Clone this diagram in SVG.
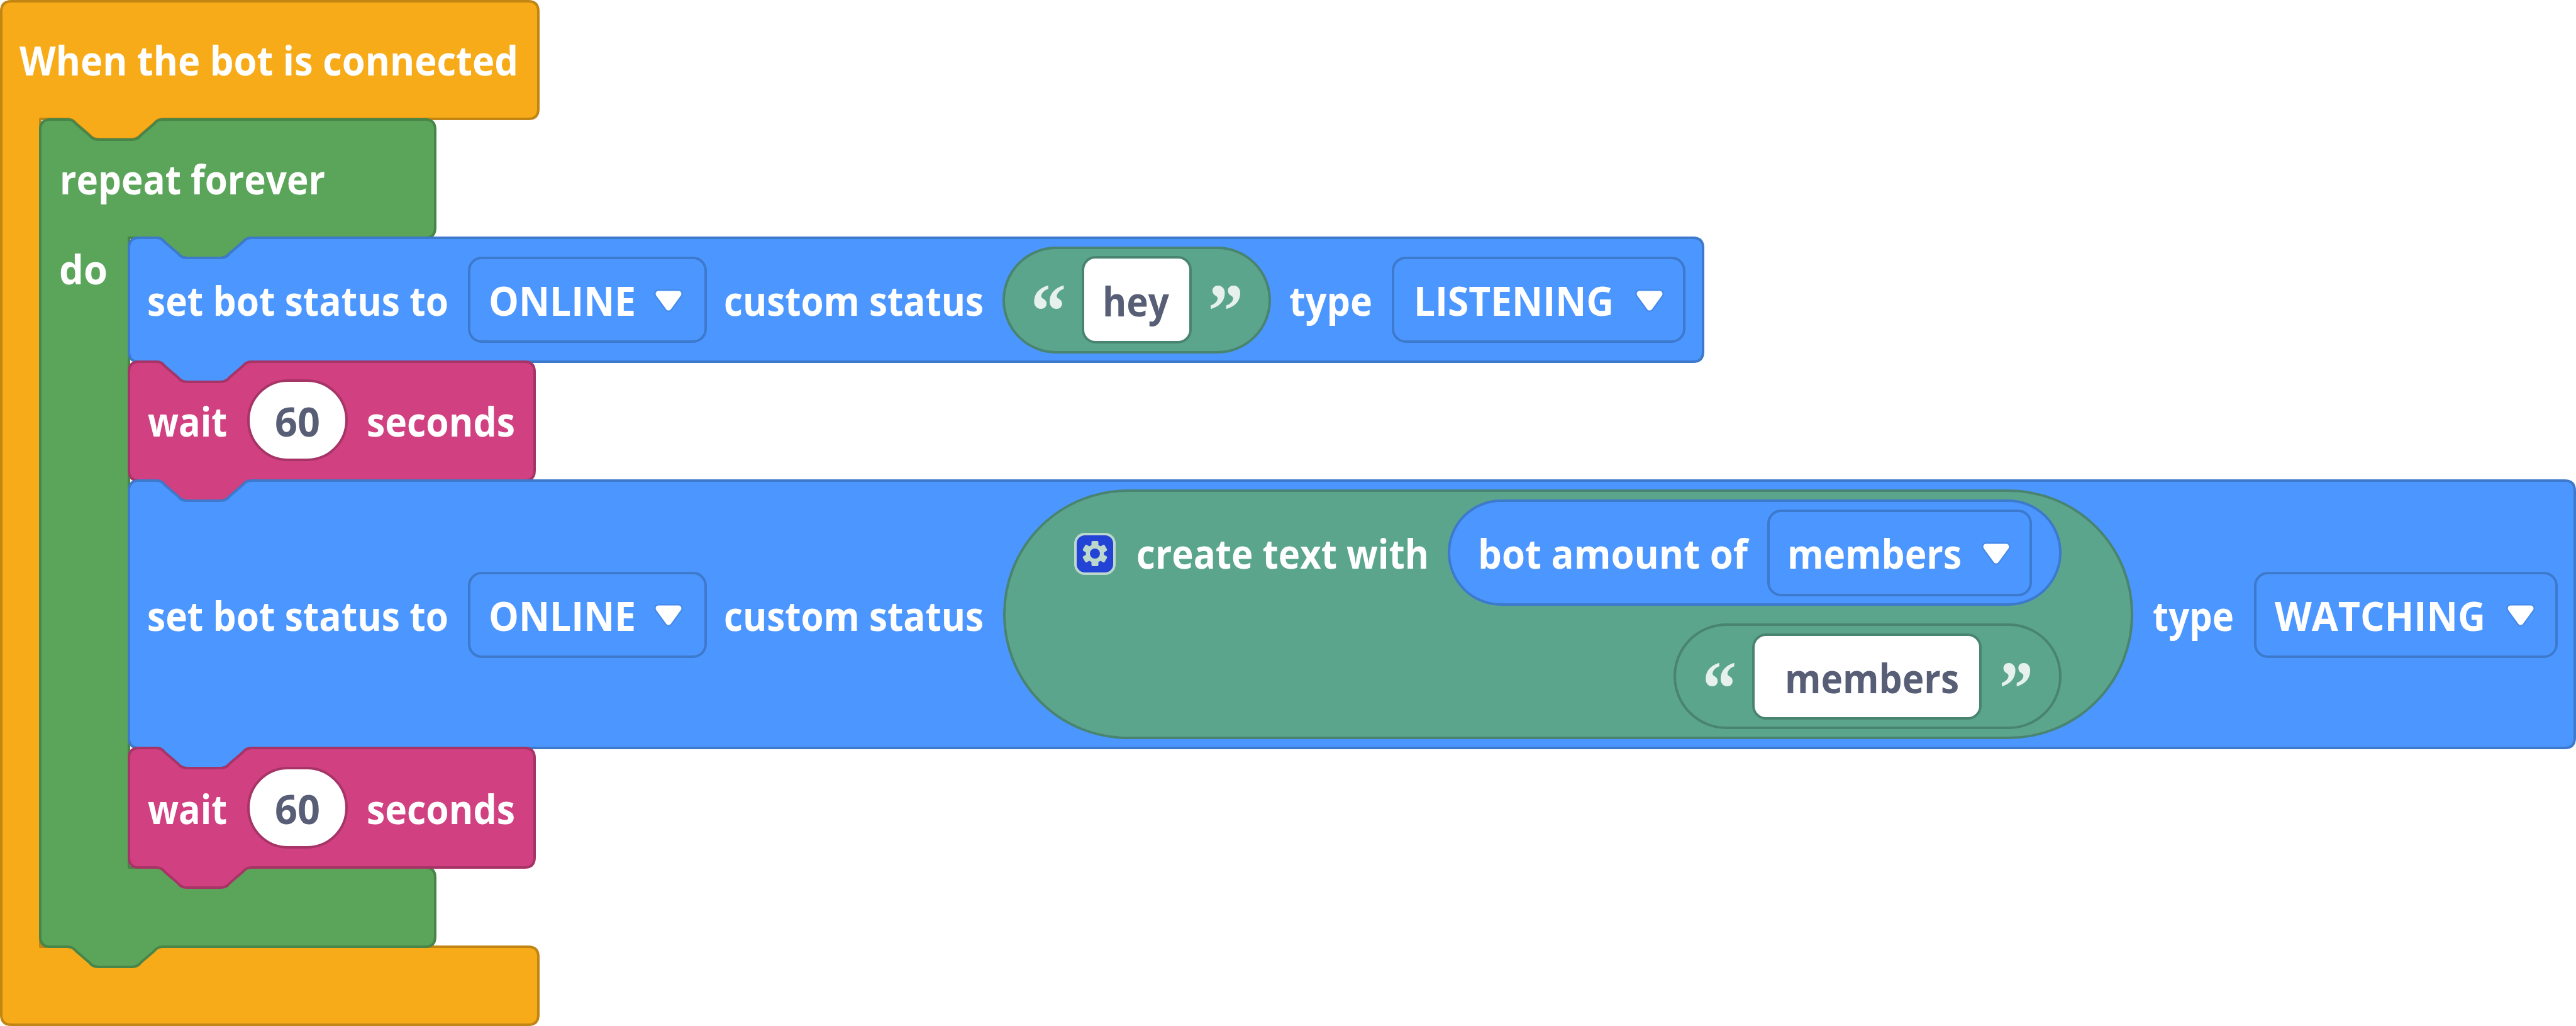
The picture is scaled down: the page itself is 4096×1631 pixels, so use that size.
<svg xmlns="http://www.w3.org/2000/svg" xmlns:xlink="http://www.w3.org/1999/xlink" width="4096" height="1631" viewBox="0 0 4096 1631">
<style>
.b{stroke-width:4;stroke-linejoin:round}
.orange{fill:#f8ab19;stroke:#c18514}
.green{fill:#5ba55b;stroke:#498449}
.blue{fill:#4c97ff;stroke:#3d79cc}
.pink{fill:#d14081;stroke:#a73467}
.str{fill:#5ba58c;stroke:#498470}
.dd{fill:#4c97ff;stroke:#3d79cc;stroke-width:4}
.field{fill:#fff}
text{font-family:"Open Sans","Noto Sans","Liberation Sans",sans-serif;font-weight:700;font-size:65px;fill:#fff}
text.dark{fill:#575e75}
text.q{font-family:"Liberation Serif",serif;font-weight:700;font-size:122px;fill:#e6f1ed}
</style>
<defs>
<g id="caret"><path d="M-16 1H16L0 23Z" fill="#3d79cc" stroke="#3d79cc" stroke-width="14" stroke-linejoin="round" opacity=".4"/><path d="M-16 1H16L0 23Z" fill="#fff" stroke="#fff" stroke-width="9" stroke-linejoin="round"/></g>
</defs>

<g id="block-when-connected">
<path class="b orange" d="M18 2H840q16 0 16 16V173q0 16 -16 16H259q-9 0 -14 7l-21 18q-5 7 -14 7h-54q-9 0 -14 -7l-21 -18q-5 -7 -14 -7H64V1505H840q16 0 16 16V1613q0 16 -16 16H18q-16 0 -16 -16V18q0 -16 16 -16Z"/>
<text x="31" y="120" textLength="793" lengthAdjust="spacingAndGlyphs">When the bot is connected</text>
</g>

<g id="block-repeat-forever">
<path class="b green" d="M80 190H108q8 0 13 7l21 18q5 7 14 7h54q9 0 14 -7l21 -18q5 -7 14 -7H676q16 0 16 16V362q0 16 -16 16H400q-9 0 -14 7l-21 18q-5 7 -14 7h-54q-9 0 -14 -7l-21 -18q-5 -7 -14 -7H205V1379H676q16 0 16 16V1489q0 16 -16 16H259q-9 0 -14 7l-21 18q-5 7 -14 7h-54q-9 0 -14 -7l-21 -18q-5 -7 -14 -7H80q-16 0 -16 -16V206q0 -16 16 -16Z"/>
<text x="95" y="309" textLength="422" lengthAdjust="spacingAndGlyphs">repeat forever</text>
<text x="94" y="452" textLength="77" lengthAdjust="spacingAndGlyphs">do</text>
</g>

<g id="block-status-1">
<path class="b blue" d="M221 378H249q8 0 13 7l21 18q5 7 14 7h54q9 0 14 -7l21 -18q5 -7 14 -7H2692q16 0 16 16V559q0 16 -16 16H400q-9 0 -14 7l-21 18q-5 7 -14 7h-54q-9 0 -14 -7l-21 -18q-5 -7 -14 -7H221q-16 0 -16 -16V394q0 -16 16 -16Z"/>
<text x="234" y="502" textLength="479" lengthAdjust="spacingAndGlyphs">set bot status to</text>
<rect class="dd" x="746" y="410" width="376" height="133" rx="20"/>
<text x="777" y="502" textLength="234" lengthAdjust="spacingAndGlyphs">ONLINE</text>
<use xlink:href="#caret" href="#caret" x="1063" y="466"/>
<text x="1151" y="502" textLength="413" lengthAdjust="spacingAndGlyphs">custom status</text>
<rect class="b str" x="1596" y="394" width="423" height="166" rx="83" ry="83"/>
<text class="q" x="1639" y="536" textLength="56" lengthAdjust="spacingAndGlyphs">“</text>
<rect class="field" x="1722" y="409" width="171" height="135" rx="20" stroke="#498470" stroke-width="4"/>
<text class="dark" x="1753" y="503" textLength="106" lengthAdjust="spacingAndGlyphs">hey</text>
<text class="q" x="1921" y="536" textLength="56" lengthAdjust="spacingAndGlyphs">”</text>
<text x="2050" y="502" textLength="132" lengthAdjust="spacingAndGlyphs">type</text>
<rect class="dd" x="2215" y="410" width="463" height="133" rx="20"/>
<text x="2248" y="502" textLength="318" lengthAdjust="spacingAndGlyphs">LISTENING</text>
<use xlink:href="#caret" href="#caret" x="2623" y="466"/>
</g>

<g id="block-wait-1">
<path class="b pink" d="M221 575H249q8 0 13 7l21 18q5 7 14 7h54q9 0 14 -7l21 -18q5 -7 14 -7H834q16 0 16 16V748q0 16 -16 16H400q-9 0 -14 7l-21 18q-5 7 -14 7h-54q-9 0 -14 -7l-21 -18q-5 -7 -14 -7H221q-16 0 -16 -16V591q0 -16 16 -16Z"/>
<text x="235" y="694" textLength="126" lengthAdjust="spacingAndGlyphs">wait</text>
<rect class="field" x="395" y="605" width="156" height="126" rx="63" stroke="#a73467" stroke-width="4"/>
<text class="dark" x="437" y="694" textLength="72" lengthAdjust="spacingAndGlyphs">60</text>
<text x="583" y="694" textLength="236" lengthAdjust="spacingAndGlyphs">seconds</text>
</g>

<g id="block-status-2">
<path class="b blue" d="M221 764H249q8 0 13 7l21 18q5 7 14 7h54q9 0 14 -7l21 -18q5 -7 14 -7H4078q16 0 16 16V1173q0 16 -16 16H400q-9 0 -14 7l-21 18q-5 7 -14 7h-54q-9 0 -14 -7l-21 -18q-5 -7 -14 -7H221q-16 0 -16 -16V780q0 -16 16 -16Z"/>
<text x="234" y="1003" textLength="479" lengthAdjust="spacingAndGlyphs">set bot status to</text>
<rect class="dd" x="746" y="911" width="376" height="133" rx="20"/>
<text x="777" y="1003" textLength="234" lengthAdjust="spacingAndGlyphs">ONLINE</text>
<use xlink:href="#caret" href="#caret" x="1063" y="966"/>
<text x="1151" y="1003" textLength="413" lengthAdjust="spacingAndGlyphs">custom status</text>
</g>

<g id="block-create-text">
<rect class="b str" x="1597" y="780" width="1793" height="393" rx="196" ry="196"/>
<rect x="1710" y="849" width="62" height="63" rx="15" fill="#2343d6" stroke="#bcd8cd" stroke-width="4"/>
<g id="gear-icon" fill="#bcd8cd" transform="translate(1741 880)">
<circle r="14.5"/>
<rect x="-5.5" y="-20" width="11" height="40" rx="2"/>
<rect x="-5.5" y="-20" width="11" height="40" rx="2" transform="rotate(60)"/>
<rect x="-5.5" y="-20" width="11" height="40" rx="2" transform="rotate(120)"/>
<circle r="8" fill="#2343d6"/>
</g>
<text x="1807" y="904" textLength="465" lengthAdjust="spacingAndGlyphs">create text with</text>
</g>

<g id="block-bot-amount">
<rect class="b blue" x="2304" y="796" width="972" height="165" rx="82.5" ry="82.5"/>
<text x="2350" y="904" textLength="429" lengthAdjust="spacingAndGlyphs">bot amount of</text>
<rect class="dd" x="2812" y="812" width="417" height="134" rx="20"/>
<text x="2842" y="904" textLength="277" lengthAdjust="spacingAndGlyphs">members</text>
<use xlink:href="#caret" href="#caret" x="3174" y="868"/>
</g>

<g id="block-string-members">
<rect class="b str" x="2663" y="993" width="613" height="164" rx="82" ry="82"/>
<text class="q" x="2707" y="1136" textLength="54" lengthAdjust="spacingAndGlyphs">“</text>
<rect class="field" x="2788" y="1009" width="361" height="133" rx="20" stroke="#498470" stroke-width="4"/>
<text class="dark" x="2838" y="1102" textLength="277" lengthAdjust="spacingAndGlyphs">members</text>
<text class="q" x="3179" y="1136" textLength="54" lengthAdjust="spacingAndGlyphs">”</text>
</g>

<g id="block-status-2-type">
<text x="3423" y="1003" textLength="129" lengthAdjust="spacingAndGlyphs">type</text>
<rect class="dd" x="3586" y="911" width="479" height="133" rx="20"/>
<text x="3617" y="1003" textLength="335" lengthAdjust="spacingAndGlyphs">WATCHING</text>
<use xlink:href="#caret" href="#caret" x="4008" y="966"/>
</g>

<g id="block-wait-2">
<path class="b pink" d="M221 1189H249q8 0 13 7l21 18q5 7 14 7h54q9 0 14 -7l21 -18q5 -7 14 -7H834q16 0 16 16V1363q0 16 -16 16H400q-9 0 -14 7l-21 18q-5 7 -14 7h-54q-9 0 -14 -7l-21 -18q-5 -7 -14 -7H221q-16 0 -16 -16V1205q0 -16 16 -16Z"/>
<text x="235" y="1310" textLength="126" lengthAdjust="spacingAndGlyphs">wait</text>
<rect class="field" x="395" y="1221" width="156" height="126" rx="63" stroke="#a73467" stroke-width="4"/>
<text class="dark" x="437" y="1310" textLength="72" lengthAdjust="spacingAndGlyphs">60</text>
<text x="583" y="1310" textLength="236" lengthAdjust="spacingAndGlyphs">seconds</text>
</g>
</svg>
